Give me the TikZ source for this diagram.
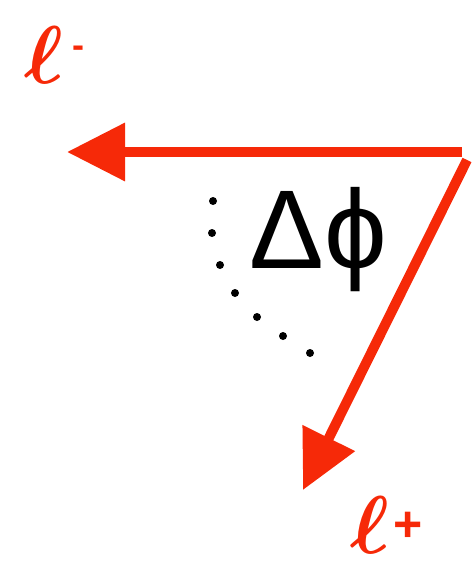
\documentclass[tikz,border=0pt]{standalone}
\usepackage{amsmath,amssymb}
\usepackage{xcolor}
\usepackage{graphicx}
\usepackage{fontspec}
\newfontfamily\greekfont{Liberation Sans}
\usetikzlibrary{arrows.meta}
\definecolor{lepton}{RGB}{246,41,8}
\tikzset{track/.style={draw=lepton, line width=10pt, -{Triangle[length=58pt,width=56pt]}},
leptonlabel/.style={text=lepton, inner sep=0pt, anchor=base west}}

\begin{document}
\begin{tikzpicture}[x=1pt,y=-1pt]
    \useasboundingbox (0,0) rectangle (471,569);
    
    % Vertex and lepton ends
    \coordinate (vtx) at (464,152);
    \coordinate (lm) at (67,152);
    \coordinate (lp) at (303,490);
    
    % Lepton tracks
    \draw[track] ([xshift=-2pt]vtx) -- (lm);
    \draw[track] ([xshift=3pt,yshift=-8pt]vtx) -- (lp);
    
    % Labels
    \node[leptonlabel] (lmlabel) at (24,84) {\scalebox{8.2}{$\boldsymbol{\ell}$}\hspace{9pt}\raisebox{26pt}{\fontsize{36}{36}\selectfont\greekfont\bfseries -}};
    \node[leptonlabel] (lplabel) at (350,553) {\scalebox{8.2}{$\boldsymbol{\ell}$}\hspace{4pt}\raisebox{12pt}{\fontsize{50}{50}\selectfont\greekfont\bfseries +}};
    
    % Opening angle
    \foreach \px/\py in {213/201, 212/233, 220/265, 235/293, 257/317, 283/336, 310/353}
        \fill (\px,\py) circle (4pt);
    \node[inner sep=0pt] (dphi) at (318,240) {\fontsize{112}{112}\selectfont\greekfont Δϕ};
\end{tikzpicture}
\end{document}
